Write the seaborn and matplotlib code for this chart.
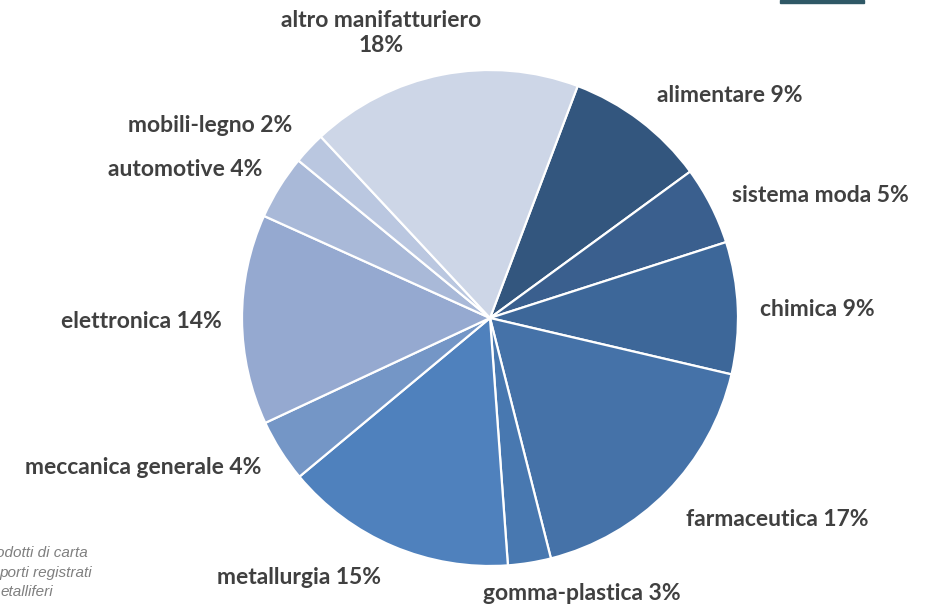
import matplotlib
matplotlib.use("Agg")
import matplotlib.pyplot as plt
import seaborn as sns

# Quote per settore (stime), in senso orario da "alimentare"
settori = ["alimentare", "sistema moda", "chimica", "farmaceutica", "gomma-plastica",
           "metallurgia", "meccanica generale", "elettronica", "automotive",
           "mobili-legno", "altro manifatturiero"]
quote = [9.2, 5.1, 8.6, 17.4, 2.8, 15.1, 4.1, 13.7, 4.2, 2.1, 17.7]
etichette_pct = ["9%", "5%", "9%", "17%", "3%", "15%", "4%", "14%", "4%", "2%", "18%"]
colori = ["#33567e", "#3a5f8e", "#3d6799", "#4572a8", "#4878b0", "#4f81bd",
          "#7496c6", "#95a9d0", "#a9b9d8", "#bac7e0", "#cdd6e7"]

# note a piè di pagina, tagliate dal bordo sinistro come nella slide
note = ["odotti di carta", "porti registrati", "etalliferi"]

sns.set_style("white")
plt.rcParams['font.family'] = ['Lato', 'DejaVu Sans']

W, H = 936, 606
fig = plt.figure(figsize=(W / 100, H / 100), dpi=100)

# pie: centro (490,318), raggio 248 px
cx, cy, r = 490, 318, 248
ax = fig.add_axes([(cx - r) / W, (H - cy - r) / H, 2 * r / W, 2 * r / H])
ax.pie(quote, colors=colori, startangle=90 - 20.7, counterclock=False,
       wedgeprops=dict(edgecolor="white", linewidth=1.6))
ax.set_xlim(-1, 1)
ax.set_ylim(-1, 1)
ax.set_axis_off()

# posizioni etichette in pixel (x, y, ha)
pos = {
    "alimentare": (657, 96, "left"),
    "sistema moda": (732, 195, "left"),
    "chimica": (760, 310, "left"),
    "farmaceutica": (686, 520, "left"),
    "gomma-plastica": (483, 594, "left"),
    "metallurgia": (381, 577, "right"),
    "meccanica generale": (261, 468, "right"),
    "elettronica": (222, 322, "right"),
    "automotive": (262, 170, "right"),
    "mobili-legno": (292, 125, "right"),
}
testo = "#404040"
fs = 16.5
for nome, pct in zip(settori, etichette_pct):
    if nome == "altro manifatturiero":
        fig.text(381 / W, 1 - 33 / H, nome + "\n" + pct, ha="center", va="center",
                 fontsize=fs, fontweight="bold", color=testo, linespacing=1.25)
        continue
    x, y, ha = pos[nome]
    fig.text(x / W, 1 - y / H, nome + " " + pct, ha=ha, va="center",
             fontsize=fs, fontweight="bold", color=testo)

fine_note = [88, 92, 53]
for i, riga in enumerate(note):
    fig.text(fine_note[i] / W, 1 - (553 + 19.5 * i) / H, riga, ha="right", va="center",
             fontsize=11, style="italic", color="#7f7f7f", family="Liberation Sans")

# barra decorativa in alto a destra
fig.add_artist(plt.Rectangle((780 / W, 1 - 3 / H), 84 / W, 3 / H,
                             transform=fig.transFigure, color="#2f5866"))

fig.savefig("out.png", dpi=100)
